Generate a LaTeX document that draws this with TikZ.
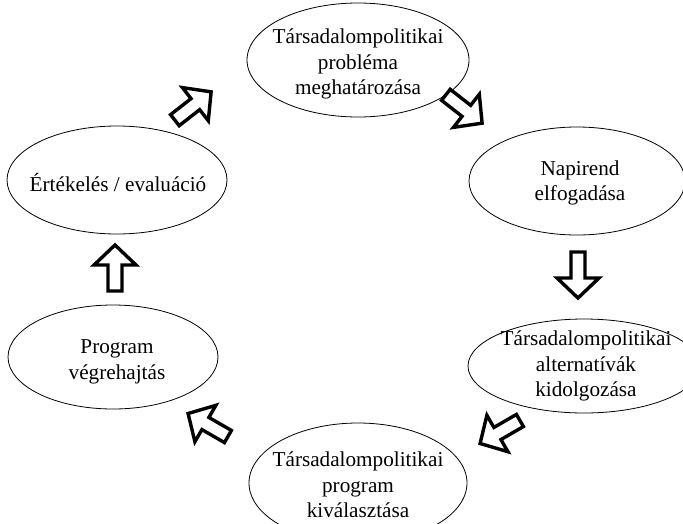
\documentclass[tikz,border=0pt]{standalone}
\usepackage{fontspec}
\setmainfont{Liberation Serif}
\usetikzlibrary{shapes.geometric}
\newcommand\blockarr[2]{%
  \begin{scope}[shift={#1}, rotate=#2]
    \draw[blockarrow] (-23,-7) -- (3,-7) -- (3,-21) -- (23,0) -- (3,21) -- (3,7) -- (-23,7) -- cycle;
  \end{scope}}
\begin{document}
\begin{tikzpicture}[x=1pt,y=-1pt,
  stage/.style={draw=black, line width=0.8pt, ellipse, inner sep=0pt},
  stagetext/.style={align=center, font=\fontsize{21.2}{25.5}\selectfont, inner sep=0pt},
  blockarrow/.style={draw=black, line width=3.4pt, fill=white, line join=miter}]
\useasboundingbox (0,0) rectangle (683,523);
\clip (0,0) rectangle (683,523);
% stages
\node[stage, minimum width=222pt, minimum height=114pt] (top) at (358,60) {};
\node[stagetext] (toptext) at (358,64) {Társadalompolitikai\\probléma\\meghatározása};
\node[stage, minimum width=216pt, minimum height=108pt] (nap) at (577,181) {};
\node[stagetext] (naptext) at (580,183) {Napirend\\elfogadása};
\node[stage, minimum width=232pt, minimum height=94pt] (alt) at (584,366) {};
\node[stagetext] (alttext) at (586,366) {Társadalompolitikai\\alternatívák\\kidolgozása};
\node[stage, minimum width=218pt, minimum height=120pt] (bot) at (358,483) {};
\node[stagetext] (bottext) at (358,485) {Társadalompolitikai\\program\\kiválasztása};
\node[stage, minimum width=210pt, minimum height=104pt] (prog) at (113,357) {};
\node[stagetext] (progtext) at (117,362) {Program\\végrehajtás};
\node[stage, minimum width=220pt, minimum height=108pt] (ert) at (117,180) {};
\node[stagetext] (erttext) at (118,182) {Értékelés / evaluáció};
% block arrows
\blockarr{(193,106)}{38}
\blockarr{(464,109)}{-38}
\blockarr{(578,275)}{-90}
\blockarr{(500,432)}{210}
\blockarr{(208,425)}{150}
\blockarr{(115,268)}{90}
\end{tikzpicture}
\end{document}
